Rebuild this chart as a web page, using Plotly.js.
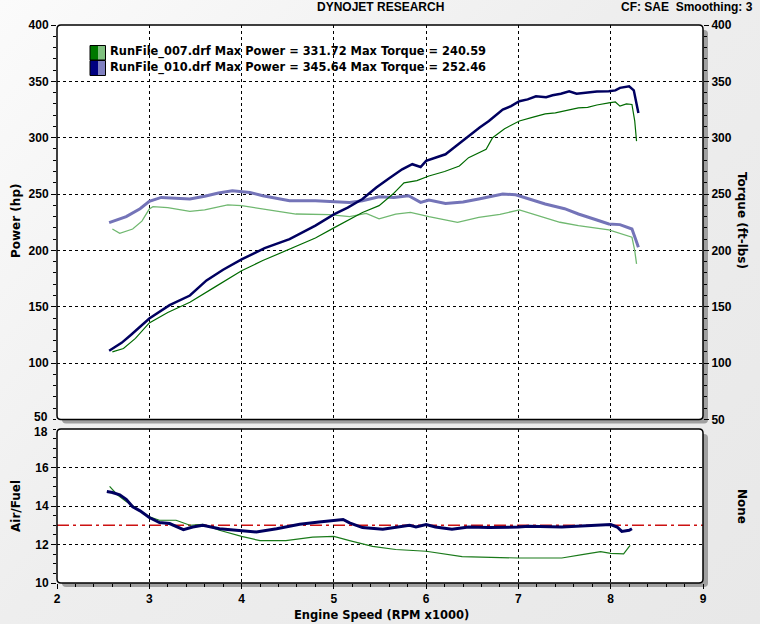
<!DOCTYPE html>
<html><head><meta charset="utf-8">
<script src="https://cdn.plot.ly/plotly-3.0.1.min.js"></script>
<style>
html,body{margin:0;padding:0;}
#chart{width:760px;height:624px;background:linear-gradient(135deg,#fbfbfb 0%,#eeeeee 45%,#e8e8e8 100%);}
</style></head>
<body><div id="chart"></div>
<script>
// ---- data (rpm x1000) ----
const pow010Rpm = [2.565,2.7,2.8,3.0,3.22,3.44,3.62,3.8,4.0,4.25,4.52,4.8,5.0,5.15,5.31,5.46,5.6,5.74,5.85,5.94,6.0,6.1,6.21,6.3,6.46,6.58,6.68,6.83,6.92,7.01,7.1,7.19,7.3,7.37,7.46,7.55,7.63,7.73,7.85,7.98,8.05,8.1,8.2,8.25,8.3];
const pow010Hp  = [111,118,125,139.6,151.4,160,173.4,182.9,192,202,210,222,232,238,245.6,255.9,264,272,276.5,274,279.4,282,285.3,291,301.5,309,314.8,325,328,332.4,334,336.8,336,337.7,339,341.2,339,339.7,341,341.2,342,344.2,345.6,342,322];
const pow007Rpm = [2.6,2.72,2.85,3.0,3.2,3.44,3.7,4.0,4.23,4.52,4.8,5.0,5.31,5.49,5.64,5.76,5.9,6.03,6.2,6.36,6.46,6.65,6.72,6.85,7.01,7.15,7.29,7.4,7.5,7.65,7.75,7.85,7.98,8.05,8.1,8.17,8.23,8.26,8.28];
const pow007Hp  = [110,113,122,135.7,145,154,167,182,191,201,211,220,233.7,239.7,250,260,262,266,270,274.9,282.3,289.7,300,308,314.8,318,321.2,322,324,326.5,327,329,330.9,331.7,328,330,329.5,315,297];
const tq010Rpm  = [2.565,2.75,2.9,3.0,3.13,3.3,3.44,3.6,3.75,3.9,4.0,4.09,4.23,4.52,4.8,5.02,5.17,5.31,5.49,5.65,5.81,5.94,6.03,6.21,6.4,6.57,6.83,6.97,7.1,7.29,7.5,7.65,7.85,7.98,8.1,8.23,8.27,8.3];
const tq010Ft   = [224.6,230,237,243.5,247,246,245.6,248,251,253,252.3,251.4,248.5,244,244,243.5,242.6,244,247.6,247,248.5,242.6,244.7,241.7,243,245.6,250,249.4,246,241.2,237,232.3,227,223.5,222.9,219,210,202.8];
const tq007Rpm  = [2.6,2.68,2.82,2.92,3.0,3.04,3.2,3.44,3.6,3.85,4.0,4.23,4.59,4.95,5.17,5.35,5.49,5.67,5.83,6.03,6.34,6.57,6.8,7.01,7.29,7.45,7.65,7.98,8.23,8.26,8.28];
const tq007Ft   = [219,215.2,219,226,236.7,238.8,238,234.6,236,240.5,239.7,236.7,232.3,231.7,230,232.9,228,232.3,233.7,230,224.9,229.3,232,235.9,229.3,225,222,218.2,211.7,200,188];
const afr010Rpm = [2.54,2.6,2.68,2.75,2.82,2.9,3.0,3.11,3.22,3.3,3.37,3.47,3.58,3.76,4.0,4.16,4.38,4.63,4.84,5.04,5.1,5.17,5.31,5.53,5.67,5.82,5.89,6.0,6.1,6.28,6.46,6.68,7.0,7.11,7.47,7.76,8.0,8.07,8.12,8.2,8.23];
const afr010    = [14.75,14.7,14.58,14.35,13.96,13.75,13.4,13.14,13.09,12.92,12.77,12.91,13.0,12.82,12.74,12.65,12.82,13.05,13.17,13.3,13.3,13.12,12.88,12.79,12.88,13.0,12.91,13.04,12.91,12.79,12.91,12.88,12.91,12.95,12.91,13.0,13.04,12.91,12.68,12.74,12.82];
const afr007Rpm = [2.57,2.65,2.75,2.88,3.0,3.11,3.29,3.44,3.58,3.76,4.0,4.2,4.48,4.77,5.0,5.17,5.42,5.67,6.0,6.39,6.65,7.0,7.19,7.47,7.69,7.89,8.0,8.14,8.21];
const afr007    = [15.02,14.6,14.23,13.8,13.44,13.26,13.26,13.0,13.04,12.74,12.42,12.2,12.2,12.38,12.42,12.2,11.9,11.74,11.65,11.37,11.33,11.3,11.3,11.3,11.47,11.63,11.54,11.51,11.95];
const afrTarget = 13.0;
const powerTicks = [100,150,200,250,300,350,400];
const afrTicks = [10,12,14,16];
const legendText = ["RunFile_007.drf Max Power = 331.72 Max Torque = 240.59",
                    "RunFile_010.drf Max Power = 345.64 Max Torque = 252.46"];
const titleText = "DYNOJET RESEARCH";
const infoText = "CF: SAE  Smoothing: 3";

// ---- layout geometry ----
const L=57, R=57, T=25, B=41, FW=760, FH=624;
const PW=FW-L-R, PH=FH-T-B;
const px=x=>(x-L)/PW, py=y=>(FH-B-y)/PH;
const upTopPx=25, upBotPx=419.5, loTopPx=429, loBotPx=583;

function rr(x0,y0,x1,y1,r){ // pixel coords -> paper path with rounded corners
  const a=px(x0),b=px(x1),c=py(y0),d=py(y1);
  const rx=r/PW, ry=r/PH;
  return `M ${a+rx},${c} L ${b-rx},${c} Q ${b},${c} ${b},${c-ry} L ${b},${d+ry} Q ${b},${d} ${b-rx},${d} L ${a+rx},${d} Q ${a},${d} ${a},${d+ry} L ${a},${c-ry} Q ${a},${c} ${a+rx},${c} Z`;
}
const X0=L, X1=FW-R;
const shapes=[];
[[upTopPx,upBotPx],[loTopPx,loBotPx]].forEach(([t,b])=>{
  shapes.push({type:'path',xref:'paper',yref:'paper',path:rr(X0+5,t+5,X1+5,b+4,4),fillcolor:'#a0a0a0',line:{width:0},layer:'below'});
  shapes.push({type:'path',xref:'paper',yref:'paper',path:rr(X0,t,X1,b,4),fillcolor:'#ffffff',line:{width:0},layer:'below'});
});
shapes.push({type:'line',xref:'x',yref:'y3',x0:2,x1:9,y0:afrTarget,y1:afrTarget,line:{color:'#cc1111',width:1.5,dash:'12px,4px,3px,4px'},layer:'below'});
[[upTopPx,upBotPx],[loTopPx,loBotPx]].forEach(([t,b])=>{
  shapes.push({type:'path',xref:'paper',yref:'paper',path:rr(X0,t,X1,b,4),line:{color:'#000000',width:1.5},layer:'above'});
});
// legend swatches
const sw=[['#007800','#80c080',45.5,60],['#000080','#8080c0',60.5,75.5]];
sw.forEach(([d,l,t,b])=>{
  shapes.push({type:'rect',xref:'paper',yref:'paper',x0:px(90),x1:px(98),y0:py(t),y1:py(b),fillcolor:d,line:{width:0},layer:'above'});
  shapes.push({type:'rect',xref:'paper',yref:'paper',x0:px(98),x1:px(105.5),y0:py(t),y1:py(b),fillcolor:l,line:{width:0},layer:'above'});
  shapes.push({type:'rect',xref:'paper',yref:'paper',x0:px(90),x1:px(105.5),y0:py(t),y1:py(b),line:{color:'#000',width:1},layer:'above'});
});

const F="Liberation Sans, Arial, sans-serif";
const FB={family:F,size:12,color:'#000',weight:'bold'};
const DV="DejaVu Sans, Verdana, sans-serif";
const LF={family:DV,size:11.4,color:'#000',weight:'bold'};
const TF={family:DV,size:12,color:'#000',weight:'bold'};
const annotations=[
  {xref:'paper',yref:'paper',x:px(108),y:py(52),xanchor:'left',yanchor:'middle',text:legendText[0],showarrow:false,font:LF},
  {xref:'paper',yref:'paper',x:px(108),y:py(67.5),xanchor:'left',yanchor:'middle',text:legendText[1],showarrow:false,font:LF},
  {xref:'paper',yref:'paper',x:px(380),y:py(7),xanchor:'center',yanchor:'middle',text:titleText,showarrow:false,font:FB},
  {xref:'paper',yref:'paper',x:px(755),y:py(7),xanchor:'right',yanchor:'middle',text:infoText,showarrow:false,font:FB},
  {xref:'paper',yref:'paper',x:px(16),y:py(221),xanchor:'center',yanchor:'middle',textangle:-90,text:'Power (hp)',showarrow:false,font:TF},
  {xref:'paper',yref:'paper',x:px(742),y:py(220),xanchor:'center',yanchor:'middle',textangle:90,text:'Torque (ft-lbs)',showarrow:false,font:TF},
  {xref:'paper',yref:'paper',x:px(16),y:py(506),xanchor:'center',yanchor:'middle',textangle:-90,text:'Air/Fuel',showarrow:false,font:TF},
  {xref:'paper',yref:'paper',x:px(742),y:py(506),xanchor:'center',yanchor:'middle',textangle:90,text:'None',showarrow:false,font:TF},
  {xref:'paper',yref:'paper',x:px(381),y:py(615),xanchor:'center',yanchor:'middle',text:'Engine Speed (RPM x1000)',showarrow:false,font:{family:DV,size:11.5,color:'#000',weight:'bold'}},
  // crowded end labels placed apart
  {xref:'paper',yref:'paper',x:px(50),y:py(416.5),xanchor:'right',yanchor:'middle',text:'50',showarrow:false,font:FB},
  {xref:'paper',yref:'paper',x:px(50),y:py(432),xanchor:'right',yanchor:'middle',text:'18',showarrow:false,font:FB}
];

const grid={showgrid:true,gridcolor:'#000',gridwidth:1,griddash:'3px,3px',zeroline:false,showline:false};
const layout={
  width:FW,height:FH,margin:{l:L,r:R,t:T,b:B},
  paper_bgcolor:'rgba(0,0,0,0)',plot_bgcolor:'rgba(0,0,0,0)',showlegend:false,
  xaxis:Object.assign({range:[2,9],anchor:'y3',dtick:1,tick0:0,ticks:'outside',ticklen:5,tickcolor:'#000',
    minor:{dtick:0.2,ticklen:3,ticks:'outside',tickcolor:'#000',showgrid:false},tickfont:FB},grid),
  yaxis:Object.assign({domain:[py(upBotPx),1],range:[50,400],tickmode:'array',tickvals:powerTicks,ticks:'outside',ticklen:5,tickcolor:'#000',
    minor:{dtick:10,tick0:0,ticklen:3,ticks:'outside',tickcolor:'#000',showgrid:false},tickfont:FB},grid),
  yaxis2:{overlaying:'y',side:'right',anchor:'x',range:[50,400],dtick:50,ticks:'outside',ticklen:5,tickcolor:'#000',
    minor:{dtick:10,ticklen:3,ticks:'outside',tickcolor:'#000'},tickfont:FB,showgrid:false,zeroline:false,showline:false},
  yaxis3:Object.assign({domain:[0,py(loTopPx)],range:[10,18],tickmode:'array',tickvals:afrTicks,ticks:'outside',ticklen:5,tickcolor:'#000',
    minor:{dtick:0.5,tick0:0,ticklen:3,ticks:'outside',tickcolor:'#000',showgrid:false},tickfont:FB},grid),
  shapes:shapes,annotations:annotations
};
const data=[
  {x:tq007Rpm,y:tq007Ft,yaxis:'y',mode:'lines',line:{color:'#70b870',width:1.3}},
  {x:tq010Rpm,y:tq010Ft,yaxis:'y',mode:'lines',line:{color:'#7474b8',width:3}},
  {x:pow007Rpm,y:pow007Hp,yaxis:'y',mode:'lines',line:{color:'#006a00',width:1.2}},
  {x:pow010Rpm,y:pow010Hp,yaxis:'y',mode:'lines',line:{color:'#000060',width:2.5}},
  {x:[2,9],y:[null,null],yaxis:'y2',mode:'lines',showlegend:false},
  {x:afr007Rpm,y:afr007,yaxis:'y3',mode:'lines',line:{color:'#1a7a1a',width:1.2}},
  {x:afr010Rpm,y:afr010,yaxis:'y3',mode:'lines',line:{color:'#000060',width:3}}
];
Plotly.newPlot('chart',data,layout,{staticPlot:true,displayModeBar:false});
</script></body></html>
